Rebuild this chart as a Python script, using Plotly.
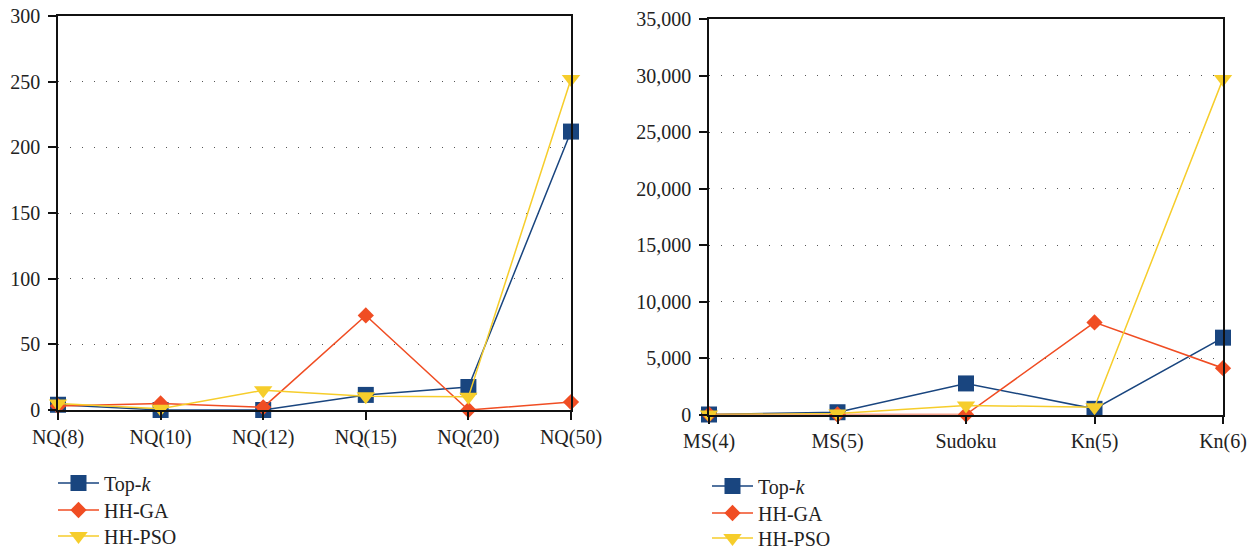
import plotly.graph_objects as go

left_cats = ["NQ(8)", "NQ(10)", "NQ(12)", "NQ(15)", "NQ(20)", "NQ(50)"]
left_topk = [4, 0, 0, 11.5, 17.5, 212]
left_hhga = [3, 5, 2, 72, 0, 6]
left_hhpso = [5, 1, 15, 10.5, 10, 252]

right_cats = ["MS(4)", "MS(5)", "Sudoku", "Kn(5)", "Kn(6)"]
right_topk = [0, 200, 2750, 500, 6800]
right_hhga = [0, 0, 0, 8150, 4100]
right_hhpso = [0, 80, 800, 650, 29700]

series_names = ["Top-<i>k</i>", "HH-GA", "HH-PSO"]
colors = ["#19457f", "#f04d23", "#f6cd2b"]
symbols = ["square", "diamond", "triangle-down"]
sizes = [16, 12.5, 16]

FONT = "Liberation Serif"
W, H = 1257, 550

def px(v):
    return v / W

def py(v):
    return 1 - v / H

fig = go.Figure()

legend_ids = [["legend", "legend2", "legend3"], ["legend4", "legend5", "legend6"]]

def add_series(xs, ys_list, xaxis, yaxis, legs):
    for name, ys, c, s, sz, lg in zip(series_names, ys_list, colors, symbols, sizes, legs):
        fig.add_trace(go.Scatter(
            x=xs, y=ys, name=name, mode="lines+markers",
            line=dict(color=c, width=1.5),
            marker=dict(color=c, symbol=s, size=sz, line=dict(width=0)),
            xaxis=xaxis, yaxis=yaxis, legend=lg, cliponaxis=False,
            showlegend=True,
        ))

add_series(left_cats, [left_topk, left_hhga, left_hhpso], "x", "y", legend_ids[0])
add_series(right_cats, [right_topk, right_hhga, right_hhpso], "x2", "y2", legend_ids[1])

axis_common = dict(
    showline=True, linecolor="#111", linewidth=1.5, mirror=True,
    ticks="outside", ticklen=8, tickwidth=2, tickcolor="#111",
    tickfont=dict(family=FONT, size=20, color="#222"),
    zeroline=False, automargin=False,
)

legend_common = dict(
    xanchor="left", yanchor="middle",
    font=dict(family=FONT, size=20, color="#222"),
    bgcolor="rgba(0,0,0,0)", itemsizing="trace", itemwidth=41,
)

legend_pos = {
    "legend": (53, 483), "legend2": (53, 510), "legend3": (53, 536),
    "legend4": (707, 486), "legend5": (707, 513), "legend6": (707, 538),
}
legends = {k: dict(x=px(x), y=py(y), **legend_common) for k, (x, y) in legend_pos.items()}

fig.update_layout(
    width=W, height=H,
    showlegend=True,
    margin=dict(l=0, r=0, t=0, b=0, autoexpand=False),
    plot_bgcolor="white", paper_bgcolor="white",
    font=dict(family=FONT, size=20, color="#222"),
    xaxis=dict(domain=[px(58), px(571)], type="category", range=[0, 5],
               showgrid=False, anchor="y", **axis_common),
    yaxis=dict(domain=[py(410), py(16)], range=[0, 300], dtick=50,
               showgrid=True, gridcolor="#555", gridwidth=1, griddash="1px,11px",
               anchor="x", ticklabelstandoff=4, **axis_common),
    xaxis2=dict(domain=[px(709), px(1223)], type="category", range=[0, 4],
                showgrid=False, anchor="y2", **axis_common),
    yaxis2=dict(domain=[py(414.5), py(19)], range=[0, 35000], dtick=5000,
                tickformat=",d", ticklabelstandoff=4,
                showgrid=True, gridcolor="#555", gridwidth=1, griddash="1px,11px",
                anchor="x2", **axis_common),
    **legends,
)

fig.write_html(
    "out.html",
    config={"displayModeBar": False},
    post_script="document.body.style.margin='0';document.body.style.padding='0';"
                "document.body.style.overflow='hidden';",
)
